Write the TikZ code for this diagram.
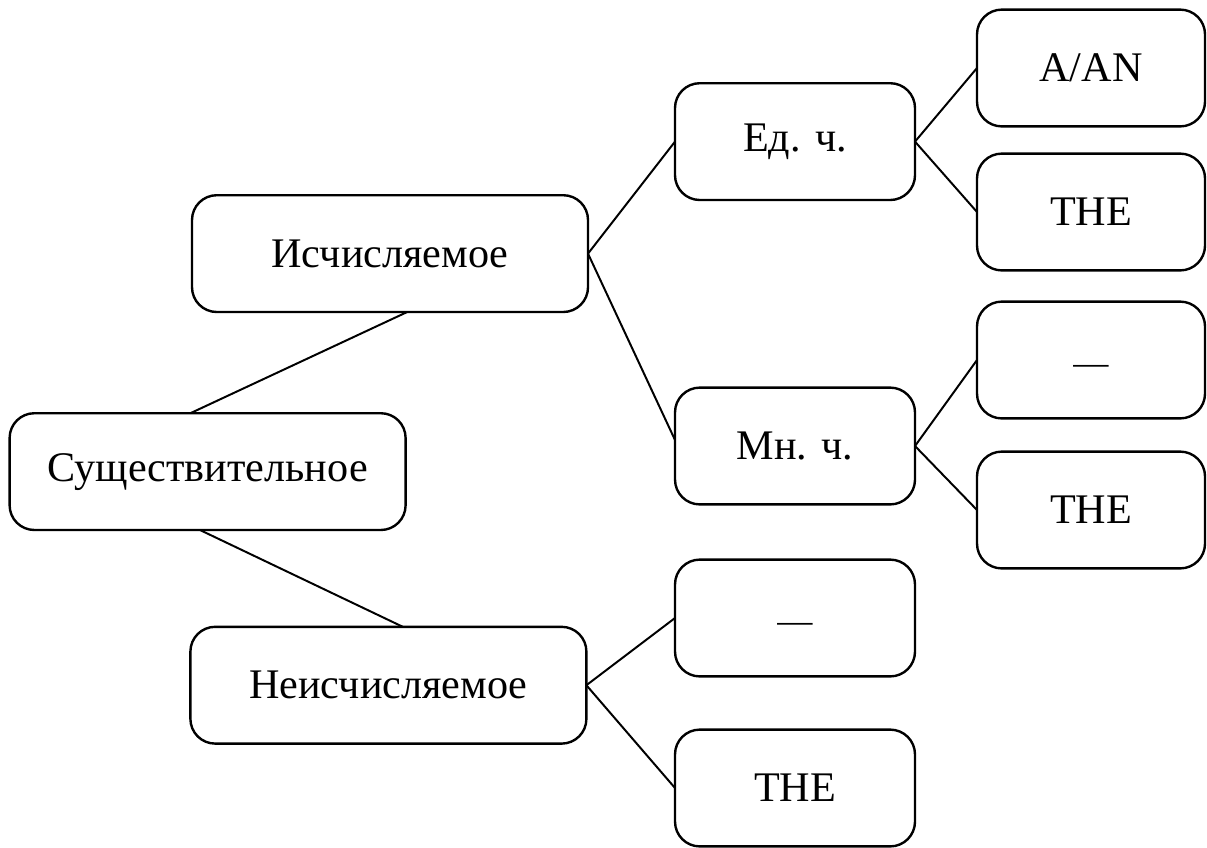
\documentclass[tikz,border=0pt]{standalone}
\usepackage{fontspec}
\setmainfont{Liberation Serif}
\usepackage{tikz}

\begin{document}
\begin{tikzpicture}[
    box/.style={draw, line width=1.7pt, rounded corners=0.62cm, inner sep=0pt,
      outer sep=0pt, minimum height=2.92cm, font=\fontsize{30}{36}\selectfont},
    wide/.style={box, minimum width=9.9cm},
    mid/.style={box, minimum width=6cm},
    leaf/.style={box, minimum width=5.7cm},
    gap/.style={font=\fontsize{25}{30}\selectfont, text height=0.7cm, text depth=0cm},
    link/.style={line width=1.4pt}]
      \useasboundingbox (0, 0) rectangle (30.175, -21.175);
      % Существительное и его ветви
      \node[wide] (sush) at (5.19, -11.79) {Существительное};
      \node[wide] (isch) at (9.75, -6.34) {Исчисляемое};
      \node[wide] (neisch) at (9.71, -17.13) {Неисчисляемое};
      % Число
      \node[mid] (ed) at (19.875, -3.54) {Ед. ч.};
      \node[mid] (mn) at (19.875, -11.15) {Мн. ч.};
      \node[mid, gap] (nodash) at (19.875, -15.45) {—};
      \node[mid] (nthe) at (19.875, -19.7) {THE};
      % Артикли
      \node[leaf] (aan) at (27.275, -1.7) {A/AN};
      \node[leaf] (edthe) at (27.275, -5.3) {THE};
      \node[leaf, gap] (mndash) at (27.275, -9.0) {—};
      \node[leaf] (mnthe) at (27.275, -12.75) {THE};

      \draw[link] ([xshift=-0.43cm]sush.north) -- ([xshift=0.43cm]isch.south);
      \draw[link] ([xshift=-0.19cm]sush.south) -- ([xshift=0.36cm]neisch.north);
      \draw[link] (isch.east) -- (ed.west);
      \draw[link] (isch.east) -- ([yshift=0.15cm]mn.west);
      \draw[link] (neisch.east) -- (nodash.west);
      \draw[link] (neisch.east) -- (nthe.west);
      \draw[link] (ed.east) -- (aan.west);
      \draw[link] (ed.east) -- (edthe.west);
      \draw[link] (mn.east) -- (mndash.west);
      \draw[link] (mn.east) -- (mnthe.west);
    \end{tikzpicture}
\end{document}
